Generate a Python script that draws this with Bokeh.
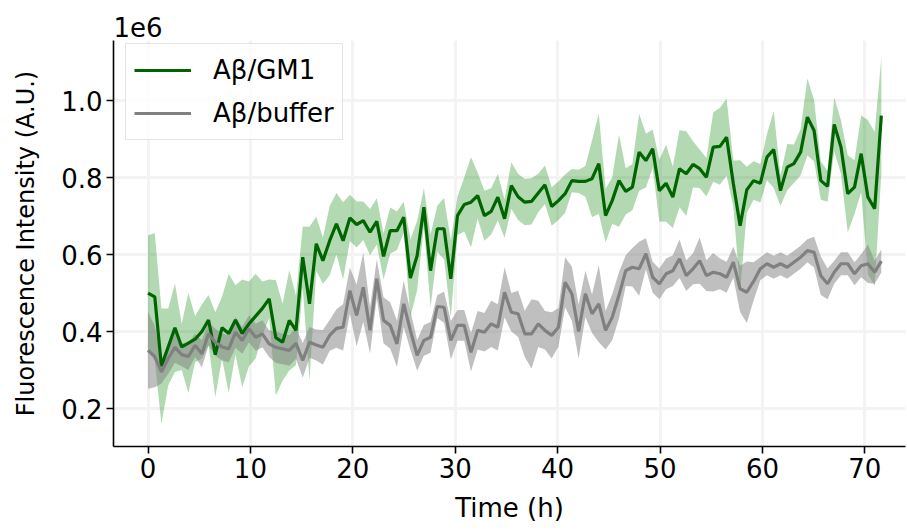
from bokeh.plotting import figure
from bokeh.models import Range1d, FixedTicker, PrintfTickFormatter, Legend, LegendItem
from bokeh.embed import file_html
from bokeh.resources import INLINE

# Time (h)
time_h = [0.00, 0.66, 1.31, 1.97, 2.63, 3.29, 3.94, 4.60, 5.26, 5.91,
          6.57, 7.23, 7.88, 8.54, 9.20, 9.86, 10.51, 11.17, 11.83, 12.48,
          13.14, 13.80, 14.45, 15.11, 15.77, 16.43, 17.08, 17.74, 18.40, 19.05,
          19.71, 20.37, 21.02, 21.68, 22.34, 23.00, 23.65, 24.31, 24.97, 25.62,
          26.28, 26.94, 27.59, 28.25, 28.91, 29.57, 30.22, 30.88, 31.54, 32.19,
          32.85, 33.51, 34.16, 34.82, 35.48, 36.14, 36.79, 37.45, 38.11, 38.76,
          39.42, 40.08, 40.73, 41.39, 42.05, 42.71, 43.36, 44.02, 44.68, 45.33,
          45.99, 46.65, 47.30, 47.96, 48.62, 49.28, 49.93, 50.59, 51.25, 51.90,
          52.56, 53.22, 53.87, 54.53, 55.19, 55.85, 56.50, 57.16, 57.82, 58.47,
          59.13, 59.79, 60.44, 61.10, 61.76, 62.42, 63.07, 63.73, 64.39, 65.04,
          65.70, 66.36, 67.01, 67.67, 68.33, 68.99, 69.64, 70.30, 70.96, 71.61]

# Fluorescence intensity, in units of 1e6 A.U.
gm1_mean = [0.50, 0.49, 0.31, 0.36, 0.41, 0.36, 0.37, 0.38, 0.40, 0.43,
            0.34, 0.41, 0.395, 0.43, 0.395, 0.42, 0.44, 0.46, 0.485, 0.384,
            0.372, 0.429, 0.403, 0.593, 0.472, 0.628, 0.584, 0.636, 0.680, 0.636,
            0.695, 0.678, 0.688, 0.658, 0.686, 0.595, 0.662, 0.662, 0.697, 0.539,
            0.597, 0.723, 0.558, 0.667, 0.667, 0.537, 0.701, 0.730, 0.736, 0.753,
            0.701, 0.712, 0.749, 0.693, 0.779, 0.75, 0.736, 0.738, 0.76, 0.781,
            0.725, 0.74, 0.758, 0.792, 0.79, 0.79, 0.797, 0.836, 0.701, 0.740,
            0.792, 0.764, 0.775, 0.866, 0.844, 0.875, 0.766, 0.785, 0.749, 0.823,
            0.810, 0.834, 0.823, 0.801, 0.879, 0.881, 0.905, 0.784, 0.675, 0.768,
            0.792, 0.785, 0.853, 0.873, 0.766, 0.827, 0.836, 0.866, 0.957, 0.922,
            0.792, 0.777, 0.938, 0.879, 0.758, 0.775, 0.862, 0.749, 0.719, 0.961]
gm1_sd = [0.15, 0.165, 0.15, 0.10, 0.115, 0.06, 0.13, 0.06, 0.07, 0.065,
          0.11, 0.08, 0.155, 0.09, 0.14, 0.11, 0.11, 0.07, 0.05, 0.15,
          0.10, 0.13, 0.09, 0.08, 0.20, 0.07, 0.06, 0.09, 0.08, 0.10,
          0.06, 0.06, 0.05, 0.06, 0.06, 0.06, 0.06, 0.05, 0.04, 0.10,
          0.09, 0.05, 0.095, 0.06, 0.08, 0.10, 0.05, 0.07, 0.117, 0.06,
          0.065, 0.06, 0.06, 0.05, 0.06, 0.06, 0.06, 0.06, 0.05, 0.05,
          0.05, 0.05, 0.05, 0.03, 0.03, 0.04, 0.10, 0.13, 0.07, 0.06,
          0.12, 0.06, 0.06, 0.10, 0.07, 0.05, 0.08, 0.10, 0.08, 0.10,
          0.11, 0.06, 0.05, 0.05, 0.09, 0.10, 0.10, 0.06, 0.17, 0.06,
          0.05, 0.05, 0.06, 0.10, 0.04, 0.06, 0.05, 0.06, 0.10, 0.08,
          0.05, 0.04, 0.07, 0.07, 0.10, 0.07, 0.10, 0.20, 0.20, 0.15]

buf_mean = [0.351, 0.335, 0.295, 0.33, 0.359, 0.34, 0.335, 0.364, 0.342, 0.394,
            0.372, 0.36, 0.355, 0.398, 0.377, 0.407, 0.385, 0.394, 0.368, 0.359,
            0.355, 0.351, 0.369, 0.325, 0.372, 0.365, 0.359, 0.39, 0.408, 0.411,
            0.506, 0.442, 0.515, 0.403, 0.537, 0.429, 0.416, 0.368, 0.472, 0.403,
            0.338, 0.377, 0.385, 0.465, 0.463, 0.377, 0.416, 0.416, 0.346, 0.403,
            0.398, 0.42, 0.411, 0.502, 0.45, 0.446, 0.394, 0.394, 0.42, 0.403,
            0.39, 0.411, 0.528, 0.498, 0.40, 0.498, 0.446, 0.472, 0.403, 0.437,
            0.494, 0.558, 0.567, 0.563, 0.602, 0.541, 0.524, 0.55, 0.558, 0.589,
            0.545, 0.563, 0.584, 0.545, 0.554, 0.55, 0.541, 0.58, 0.511, 0.502,
            0.53, 0.563, 0.576, 0.567, 0.576, 0.567, 0.58, 0.593, 0.61, 0.606,
            0.545, 0.524, 0.554, 0.576, 0.576, 0.55, 0.571, 0.576, 0.554, 0.583]
buf_sd = [0.10, 0.08, 0.03, 0.04, 0.04, 0.03, 0.035, 0.03, 0.035, 0.03,
          0.035, 0.035, 0.035, 0.04, 0.035, 0.035, 0.035, 0.035, 0.035, 0.04,
          0.04, 0.04, 0.04, 0.045, 0.04, 0.04, 0.045, 0.04, 0.05, 0.06,
          0.06, 0.08, 0.09, 0.06, 0.05, 0.06, 0.06, 0.06, 0.06, 0.05,
          0.04, 0.04, 0.04, 0.03, 0.04, 0.05, 0.04, 0.04, 0.05, 0.05,
          0.05, 0.06, 0.06, 0.065, 0.05, 0.06, 0.06, 0.09, 0.06, 0.05,
          0.06, 0.05, 0.065, 0.07, 0.07, 0.06, 0.05, 0.10, 0.05, 0.06,
          0.06, 0.04, 0.05, 0.07, 0.04, 0.04, 0.04, 0.04, 0.04, 0.05,
          0.04, 0.04, 0.06, 0.04, 0.05, 0.04, 0.04, 0.04, 0.06, 0.08,
          0.05, 0.03, 0.03, 0.03, 0.03, 0.03, 0.03, 0.03, 0.03, 0.04,
          0.05, 0.04, 0.03, 0.03, 0.03, 0.03, 0.03, 0.05, 0.03, 0.03]

x_ticks = [0, 10, 20, 30, 40, 50, 60, 70]
y_ticks = [0.2, 0.4, 0.6, 0.8, 1.0]

FONT = "DejaVu Sans"

p = figure(width=907, height=531, output_backend="svg", toolbar_location=None,
           x_range=Range1d(-3.37, 73.97), y_range=Range1d(0.1013, 1.156),
           min_border_left=113, min_border_right=2, min_border_top=40,
           min_border_bottom=85, title="1e6")
p.outline_line_color = None
p.background_fill_color = "white"

p.title.text_font = FONT
p.title.text_font_size = "26px"
p.title.text_font_style = "normal"
p.title.text_color = "black"
p.title.align = "left"
p.title.vertical_align = "top"
p.title.offset = 0
p.title.standoff = 4

gm1_lo = [m - s for m, s in zip(gm1_mean, gm1_sd)]
gm1_hi = [m + s for m, s in zip(gm1_mean, gm1_sd)]
buf_lo = [m - s for m, s in zip(buf_mean, buf_sd)]
buf_hi = [m + s for m, s in zip(buf_mean, buf_sd)]

p.varea(x=time_h, y1=gm1_lo, y2=gm1_hi, fill_color="green", fill_alpha=0.3)
p.varea(x=time_h, y1=buf_lo, y2=buf_hi, fill_color="gray", fill_alpha=0.5)
g_line = p.line(time_h, gm1_mean, line_color="darkgreen", line_width=3.2)
b_line = p.line(time_h, buf_mean, line_color="gray", line_width=3.2)

for ax in (p.xaxis[0], p.yaxis[0]):
    ax.axis_line_color = "black"
    ax.axis_line_width = 1.6
    ax.major_tick_line_color = "black"
    ax.major_tick_line_width = 1.6
    ax.major_tick_in = 0
    ax.major_tick_out = 7
    ax.minor_tick_line_color = None
    ax.major_label_text_font = FONT
    ax.major_label_text_font_size = "26px"
    ax.major_label_text_color = "black"
    ax.axis_label_text_font = FONT
    ax.axis_label_text_font_style = "normal"
    ax.axis_label_text_color = "black"
    ax.major_label_standoff = 4

p.xaxis.axis_label_text_font_size = "26px"
p.yaxis.axis_label_text_font_size = "24px"
p.xaxis.ticker = FixedTicker(ticks=x_ticks)
p.yaxis.ticker = FixedTicker(ticks=y_ticks)
p.yaxis.formatter = PrintfTickFormatter(format="%.1f")
p.xaxis.axis_label = "Time (h)"
p.yaxis.axis_label = "Fluorescence Intensity (A.U.)"
p.xaxis.axis_label_standoff = 12
p.yaxis.axis_label_standoff = 18

p.xgrid.ticker = FixedTicker(ticks=x_ticks)
p.ygrid.ticker = FixedTicker(ticks=y_ticks)
p.grid.grid_line_color = "#f3f3f3"
p.grid.grid_line_width = 3

legend = Legend(items=[LegendItem(label="Aβ/GM1", renderers=[g_line]),
                       LegendItem(label="Aβ/buffer", renderers=[b_line])],
                location=(12, 306))
legend.label_text_font = FONT
legend.label_text_font_size = "26px"
legend.label_text_color = "black"
legend.glyph_width = 57
legend.glyph_height = 20
legend.label_height = 36
legend.spacing = 7
legend.padding = 8
legend.margin = 0
legend.label_standoff = 22
legend.border_line_color = "#cccccc"
legend.border_line_width = 1.5
legend.background_fill_alpha = 0.8
p.add_layout(legend)

open("out.html", "w").write(file_html(p, INLINE))
